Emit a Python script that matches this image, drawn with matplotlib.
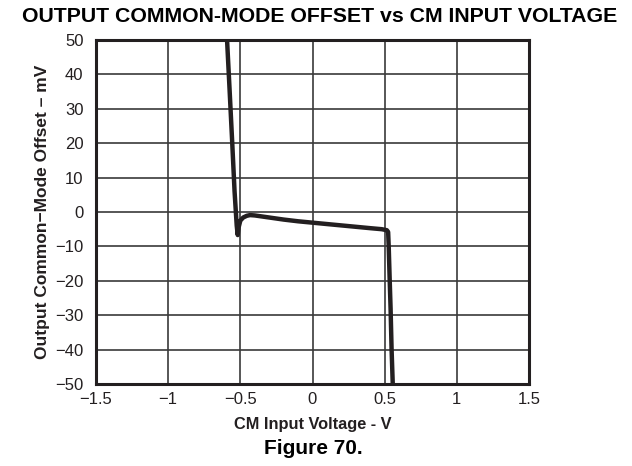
import matplotlib
matplotlib.use("Agg")
import matplotlib.pyplot as plt

plt.rcParams['font.family'] = ['Liberation Sans', 'DejaVu Sans']

# CM input voltage (V) and output common-mode offset (mV)
vin = [-0.592, -0.575, -0.556, -0.540, -0.525, -0.518, -0.512, -0.500,
       -0.480, -0.455, -0.433, -0.400, -0.300, -0.200, -0.100, 0.000,
       0.100, 0.200, 0.300, 0.400, 0.480, 0.515, 0.524, 0.528, 0.535,
       0.541, 0.548, 0.556]
offset = [50.0, 36.0, 20.0, 6.0, -4.0, -6.7, -4.5, -2.5,
          -1.6, -1.1, -0.9, -1.0, -1.6, -2.2, -2.7, -3.1,
          -3.5, -3.9, -4.3, -4.7, -5.0, -5.3, -5.8, -10.0, -20.0,
          -28.0, -40.0, -50.0]

xticks = [-1.5, -1, -0.5, 0, 0.5, 1, 1.5]
xtick_labels = ['\u22121.5', '\u22121', '\u22120.5', '0', '0.5', '1', '1.5']
yticks = [-50, -40, -30, -20, -10, 0, 10, 20, 30, 40, 50]
ytick_labels = ['\u221250', '\u221240', '\u221230', '\u221220', '\u221210',
                '0', '10', '20', '30', '40', '50']

fig = plt.figure(figsize=(6.32, 4.66), dpi=100)
ax = fig.add_axes([96 / 632, 1 - 384 / 466, (529 - 96) / 632, (384 - 40) / 466])

ax.plot(vin, offset, color='#231f20', linewidth=3.2, solid_capstyle='butt',
        solid_joinstyle='round', zorder=3)

ax.set_xlim(-1.5, 1.5)
ax.set_ylim(-50, 50)
ax.set_xticks(xticks)
ax.set_xticklabels(xtick_labels)
ax.set_yticks(yticks)
ax.set_yticklabels(ytick_labels)
ax.tick_params(length=0, labelsize=12, colors='#231f20')
ax.tick_params(axis='x', pad=6)
ax.tick_params(axis='y', pad=9)
ax.grid(True, color='#3a3a3a', linewidth=1.2)
ax.set_axisbelow(True)
for s in ax.spines.values():
    s.set_linewidth(2.2)
    s.set_color('#231f20')

ax.set_xlabel('CM Input Voltage - V', fontsize=11.8, fontweight='bold',
              color='#231f20', labelpad=7)
ax.set_ylabel('Output Common\u2212Mode Offset \u2013 mV', fontsize=12.5,
              fontweight='bold', color='#231f20', labelpad=4)

fig.text(320 / 632, 1 - 17 / 466, 'OUTPUT COMMON-MODE OFFSET vs CM INPUT VOLTAGE',
         ha='center', va='center', fontsize=15.3, fontweight='bold', color='black')
fig.text(313 / 632, 1 - 448 / 466, 'Figure 70.', ha='center', va='center',
         fontsize=15, fontweight='bold', color='black')

fig.savefig('out.png', dpi=100)
